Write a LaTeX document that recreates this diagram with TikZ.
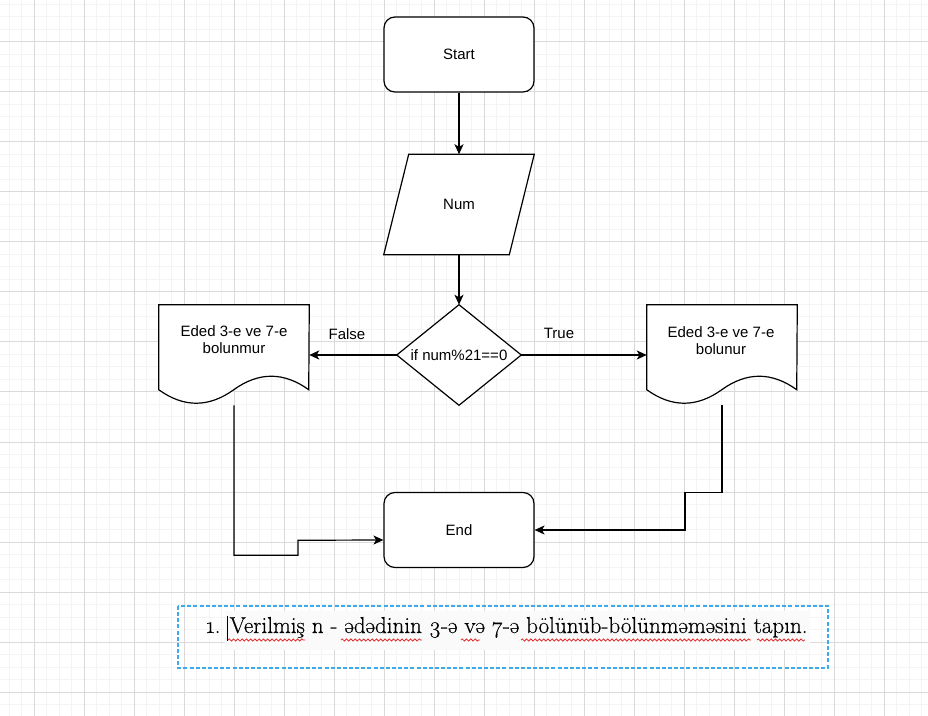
\documentclass[tikz,border=0pt]{standalone}
\usepackage{fontspec}
\setmainfont{Liberation Sans}
\newfontfamily\taskfont{Latin Modern Roman}[Numbers=OldStyle,FakeBold=0.35]
\usetikzlibrary{arrows.meta,calc,decorations.pathmorphing}
\definecolor{gridmin}{RGB}{244,244,244}
\definecolor{gridmaj}{RGB}{218,218,218}
\definecolor{dashblue}{RGB}{60,170,235}
\definecolor{spellred}{RGB}{230,40,40}
\definecolor{textbg}{RGB}{250,250,250}
\pgfdeclarelayer{gridlayer}
\pgfdeclarelayer{shapelayer}
\pgfsetlayers{gridlayer,shapelayer,main}
\tikzset{
  lbl/.style={font=\fontsize{11.25}{12.75}\selectfont, inner sep=0pt, align=center},
  roundbox/.style={lbl, draw, fill=white, line width=0.9pt, rounded corners=8.25pt,
    minimum width=112.5pt, minimum height=56.25pt},
  ghost/.style={lbl, minimum width=#1, minimum height=75pt},
  outline/.style={draw, fill=white, line width=0.9pt, line join=miter},
  arr/.style={line width=0.9pt, -{Stealth[length=7.5pt,width=6.8pt,inset=2pt]}},
  spell/.style={spellred, line width=0.6pt, decorate,
    decoration={snake, amplitude=0.8pt, segment length=3.2pt}},
}
\begin{document}
\begin{tikzpicture}[x=0.75pt,y=-0.75pt]
\useasboundingbox (0,0) rectangle (928,716);
\begin{pgfonlayer}{gridlayer}
  \fill[white] (0,0) rectangle (928,716);
  \foreach \i in {0,...,74} {\draw[gridmin, line width=0.75pt] ({9+12.5*\i},0) -- ++(0,716);}
  \foreach \j in {0,...,57} {\draw[gridmin, line width=0.75pt] (0,{4.5+12.5*\j}) -- ++(928,0);}
  \foreach \i in {0,...,17} {\draw[gridmaj, line width=0.75pt] ({34+50*\i},0) -- ++(0,716);}
  \foreach \j in {0,...,13} {\draw[gridmaj, line width=0.75pt] (0,{42+50*\j}) -- ++(928,0);}
\end{pgfonlayer}

% nodes
\node[roundbox] (start) at (459,54.5) {Start};
\node[ghost=112.5pt] (num) at (459,204.5) {Num};
\node[ghost=93pt] (dia) at (459,355) {if num\%21==0};
\node[ghost=112.5pt] (ld) at (234,355) {};
\node[ghost=112.5pt] (rd) at (722,355) {};
\node[lbl] (ldtext) at (234,340) {Eded 3-e ve 7-e\\bolunmur};
\node[lbl] (rdtext) at (721,340.5) {Eded 3-e ve 7-e\\bolunur};
\node[roundbox] (endn) at (459,530) {End};
\node[lbl] (falselbl) at (347,334) {False};
\node[lbl] (truelbl) at (559,333) {True};

% shapes
\begin{pgfonlayer}{shapelayer}
  \path[outline] ($(num.north west)+(25,0)$) -- (num.north east)
      -- ($(num.south east)+(-25,0)$) -- (num.south west) -- cycle;
  \path[outline] (dia.north) -- (dia.east) -- (dia.south) -- (dia.west) -- cycle;
  \foreach \d in {ld,rd} {
    \path[outline] (\d.north west) -- (\d.north east) -- ([shift={(150,85)}]\d.north west)
      .. controls ([shift={(125,67)}]\d.north west) and ([shift={(100,67)}]\d.north west)
      .. ([shift={(75,85)}]\d.north west)
      .. controls ([shift={(50,103)}]\d.north west) and ([shift={(25,103)}]\d.north west)
      .. ([shift={(0,85)}]\d.north west) -- cycle;
  }
\end{pgfonlayer}

% connectors
\draw[arr] (start) -- (num);
\draw[arr] (num) -- (dia);
\draw[arr] (dia.west) -- (ld.east);
\draw[arr] (dia.east) -- (rd.west);
\draw[arr] (ld.south) -- ++(0,150) -- ++(64,0) -- ++(0,-15) -- ($(endn.west)+(0,10)$);
\draw[arr] (rd.south) -- ++(0,87) -- ++(-37,0) |- (endn.east);

% task text
\fill[textbg] (225,611) rectangle (810,650);
\draw[dashblue, line width=0.9pt, dash pattern=on 3pt off 1.6pt] (178,606) rectangle (828,668);
\node[anchor=base west, inner sep=0pt, font=\taskfont\fontsize{17.3}{20}\selectfont] (task) at (206,633)
  {1. Verilmiş n - ədədinin 3-ə və 7-ə bölünüb-bölünməməsini tapın.};
\draw[line width=0.5pt] (227,616) -- (227,641);
\draw[spell] (228,640) -- (305,640);
\draw[spell] (341,640) -- (422,640);
\draw[spell] (461,640) -- (480,640);
\draw[spell] (521,640) -- (751,640);
\draw[spell] (757,640) -- (805,640);
\end{tikzpicture}
\end{document}
